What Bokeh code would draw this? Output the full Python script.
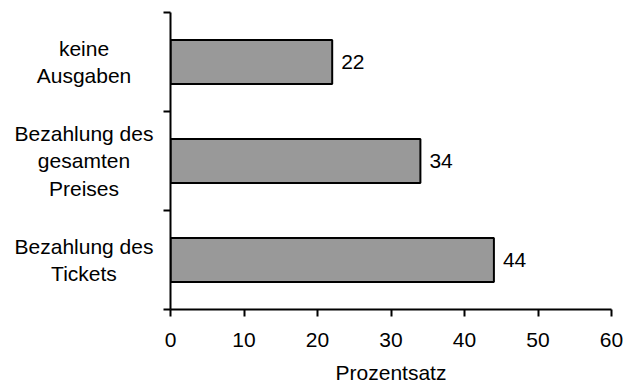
from bokeh.plotting import figure
from bokeh.models import ColumnDataSource, LabelSet, Range1d, FixedTicker
from bokeh.layouts import row
from bokeh.core.properties import value
from bokeh.embed import file_html
from bokeh.resources import INLINE

# Data (bottom to top)
categories = ["Bezahlung des\nTickets", "Bezahlung des\ngesamten\nPreises", "keine\nAusgaben"]
values = [44, 34, 22]
x_ticks = [0, 10, 20, 30, 40, 50, 60]
x_label = "Prozentsatz"

FONT = "Liberation Sans"
FS = "21px"
LEFT_W = 157
LABEL_CX = 83.5 / LEFT_W
FRAME_H = 297
TOP = 12

positions = [i + 0.5 for i in range(len(categories))]
src = ColumnDataSource(dict(
    y=positions,
    v=values,
    cx=[LABEL_CX] * len(values),
    cat=categories,
    vtxt=[str(v) for v in values],
))
yr = Range1d(0, len(categories))

# left panel: category labels
pl = figure(frame_width=LEFT_W, frame_height=FRAME_H, x_range=Range1d(0, 1), y_range=yr,
            output_backend="svg", toolbar_location=None,
            x_axis_location=None, y_axis_location=None,
            min_border_left=0, min_border_right=0, min_border_top=TOP, min_border_bottom=0)
pl.outline_line_color = None
pl.xgrid.grid_line_color = None
pl.ygrid.grid_line_color = None
pl.text(x="cx", y="y", text="cat", source=src, text_align="center", text_baseline="middle",
        text_line_height=1.18, text_font=value(FONT), text_font_size=value(FS), text_color="black")

# main chart
p = figure(frame_width=441, frame_height=FRAME_H,
           x_range=Range1d(0, 60), y_range=yr,
           output_backend="svg", toolbar_location=None,
           min_border_left=13, min_border_right=13, min_border_top=TOP, min_border_bottom=60)
p.outline_line_color = None
p.xgrid.grid_line_color = None
p.ygrid.grid_line_color = None

p.hbar(y="y", right="v", left=0, height=0.445, source=src,
       fill_color="#999999", line_color="black", line_width=2)

p.add_layout(LabelSet(x="v", y="y", text="vtxt", source=src, x_offset=9,
                      text_align="left", text_baseline="middle",
                      text_font=value(FONT), text_font_size=value(FS), text_color="black"))

xa = p.xaxis[0]
xa.ticker = FixedTicker(ticks=x_ticks)
xa.minor_tick_line_color = None
xa.major_tick_in = 0
xa.major_tick_out = 7
xa.major_tick_line_width = 2
xa.axis_line_width = 2
xa.axis_line_color = "black"
xa.major_tick_line_color = "black"
xa.major_label_text_font = FONT
xa.major_label_text_font_size = FS
xa.major_label_text_color = "black"
xa.major_label_standoff = 16
xa.axis_label = x_label
xa.axis_label_text_font = FONT
xa.axis_label_text_font_size = FS
xa.axis_label_text_font_style = "normal"
xa.axis_label_text_color = "black"
xa.axis_label_standoff = 11

ya = p.yaxis[0]
ya.ticker = FixedTicker(ticks=list(range(len(categories) + 1)))
ya.minor_tick_line_color = None
ya.major_tick_in = 0
ya.major_tick_out = 7
ya.major_tick_line_width = 2
ya.axis_line_width = 2
ya.axis_line_color = "black"
ya.major_tick_line_color = "black"
ya.major_label_overrides = {t: "" for t in range(len(categories) + 1)}
ya.major_label_standoff = 0

layout = row(pl, p)
open("out.html", "w").write(file_html(layout, INLINE))
